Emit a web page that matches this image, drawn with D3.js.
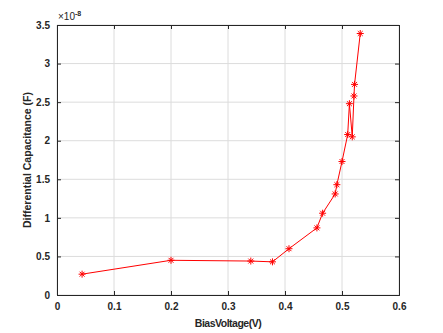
<!DOCTYPE html>
<html>
<head>
<meta charset="utf-8">
<script src="https://cdn.jsdelivr.net/npm/d3@7"></script>
<style>
  body { margin: 0; background: #fff; }
  text { font-family: "Liberation Sans", Arial, sans-serif; font-weight: bold; fill: #262626; }
</style>
</head>
<body>
<svg id="chart" width="443" height="333"></svg>
<script>
// bias voltage (V) and differential capacitance (x1e-8 F)
var biasVoltage = [0.044, 0.200, 0.340, 0.378, 0.407, 0.456, 0.466, 0.488, 0.491, 0.500, 0.510, 0.513, 0.518, 0.521, 0.522, 0.532];
var capacitance = [0.27, 0.45, 0.44, 0.43, 0.60, 0.87, 1.06, 1.31, 1.43, 1.73, 2.08, 2.48, 2.05, 2.58, 2.73, 3.39];
var xTicks = [0, 0.1, 0.2, 0.3, 0.4, 0.5, 0.6];
var yTicks = [0, 0.5, 1, 1.5, 2, 2.5, 3, 3.5];

var margin = {top: 25, right: 44, bottom: 38, left: 57};
var width = 443 - margin.left - margin.right;
var height = 333 - margin.top - margin.bottom;

var x = d3.scaleLinear().domain([0, 0.6]).range([0, width]);
var y = d3.scaleLinear().domain([0, 3.5]).range([height, 0]);

var svg = d3.select('#chart');
var main = svg.append('g')
    .attr('transform', 'translate(' + margin.left + ',' + margin.top + ')');

// grid
main.append('g').selectAll('line').data(xTicks).enter().append('line')
    .attr('x1', function(d) { return x(d); }).attr('x2', function(d) { return x(d); })
    .attr('y1', 0).attr('y2', height)
    .attr('stroke', '#dcdcdc').attr('stroke-width', 1);
main.append('g').selectAll('line').data(yTicks).enter().append('line')
    .attr('y1', function(d) { return y(d); }).attr('y2', function(d) { return y(d); })
    .attr('x1', 0).attr('x2', width)
    .attr('stroke', '#dcdcdc').attr('stroke-width', 1);

// axes (ticks point inward, like matlab)
var xAxis = d3.axisBottom(x).tickValues(xTicks).tickSize(-4).tickPadding(8).tickFormat(d3.format('~g'));
var yAxis = d3.axisLeft(y).tickValues(yTicks).tickSize(-4).tickPadding(7).tickFormat(d3.format('~g'));

main.append('g').attr('transform', 'translate(0,' + height + ')').call(xAxis);
main.append('g').call(yAxis);
main.append('g').call(d3.axisTop(x).tickValues(xTicks).tickSize(-4).tickFormat(''));
main.append('g').attr('transform', 'translate(' + width + ',0)')
    .call(d3.axisRight(y).tickValues(yTicks).tickSize(-4).tickFormat(''));

main.selectAll('.domain').attr('stroke', '#262626');
main.selectAll('.tick line').attr('stroke', '#262626');
main.selectAll('.tick text').style('font-size', '10px').style('font-weight', 'bold').attr('fill', '#262626');

// data line
var pts = biasVoltage.map(function(v, i) { return [v, capacitance[i]]; });
var line = d3.line().x(function(d) { return x(d[0]); }).y(function(d) { return y(d[1]); });
main.append('path').datum(pts)
    .attr('d', line).attr('fill', 'none').attr('stroke', '#ff0000').attr('stroke-width', 1);

// asterisk markers
var star = main.append('g').selectAll('g').data(pts).enter().append('g')
    .attr('transform', function(d) { return 'translate(' + x(d[0]) + ',' + y(d[1]) + ')'; });
var r = 3.5;
[[-r, 0, r, 0], [0, -r, 0, r], [-r * 0.7, -r * 0.7, r * 0.7, r * 0.7], [-r * 0.7, r * 0.7, r * 0.7, -r * 0.7]].forEach(function(s) {
    star.append('line').attr('x1', s[0]).attr('y1', s[1]).attr('x2', s[2]).attr('y2', s[3])
        .attr('stroke', '#ff0000').attr('stroke-width', 1);
});

// exponent label
var ex = svg.append('text').attr('x', margin.left + 1).attr('y', 20).style('font-size', '10px').style('font-weight', 'normal');
ex.append('tspan').text('\u00d710');
ex.append('tspan').attr('dy', -4).style('font-size', '7px').style('font-weight', 'bold').text('-8');

// axis labels
svg.append('text')
    .attr('x', margin.left + width / 2).attr('y', 327)
    .attr('text-anchor', 'middle').style('font-size', '10.5px').style('letter-spacing', '-0.5px')
    .text('BiasVoltage(V)');
svg.append('text')
    .attr('transform', 'translate(31,' + (margin.top + height / 2) + ') rotate(-90)')
    .attr('text-anchor', 'middle').style('font-size', '10.5px')
    .text('Differential Capacitance (F)');
</script>
</body>
</html>
